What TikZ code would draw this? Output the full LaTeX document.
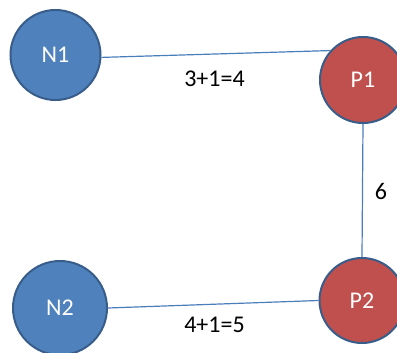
\documentclass[tikz,border=0pt]{standalone}
\usepackage{fontspec}
\setmainfont{Carlito}
\definecolor{nblue}{RGB}{79,129,189}
\definecolor{pred}{RGB}{192,80,77}
\definecolor{rim}{RGB}{56,93,138}
\definecolor{wire}{RGB}{74,126,187}
\tikzset{
  vertex/.style={circle, draw=rim, line width=2pt, inner sep=0pt,
    text=white, font=\fontsize{24}{28}\selectfont},
  nnode/.style={vertex, fill=nblue},
  pnode/.style={vertex, fill=pred},
  link/.style={draw=wire, line width=1.2pt},
  weight/.style={font=\fontsize{24}{28}\selectfont, text=black}
}
\begin{document}
\begin{tikzpicture}[x=1pt,y=-1pt]
  \useasboundingbox (0,0) rectangle (397,353);
  \clip (0,0) rectangle (397,353);
  % vertices
  \node[nnode, minimum size=90pt] (N1) at (55.5,55) {N1};
  \node[nnode, minimum size=94pt] (N2) at (60,308) {N2};
  \node[pnode, minimum size=86pt] (P1) at (363,80) {P1};
  \node[pnode, minimum size=85pt] (P2) at (362,300.5) {P2};
  % edges
  \draw[link] (N1.-3) -- (P1.138);
  \draw[link] (P1.south) -- (P2.north);
  \draw[link] (N2.east) -- (P2.west);
  % edge weights
  \node[weight] (w1) at (214.5,79) {3+1=4};
  \node[weight] (w2) at (381,191) {6};
  \node[weight] (w3) at (214.5,325) {4+1=5};
\end{tikzpicture}
\end{document}
